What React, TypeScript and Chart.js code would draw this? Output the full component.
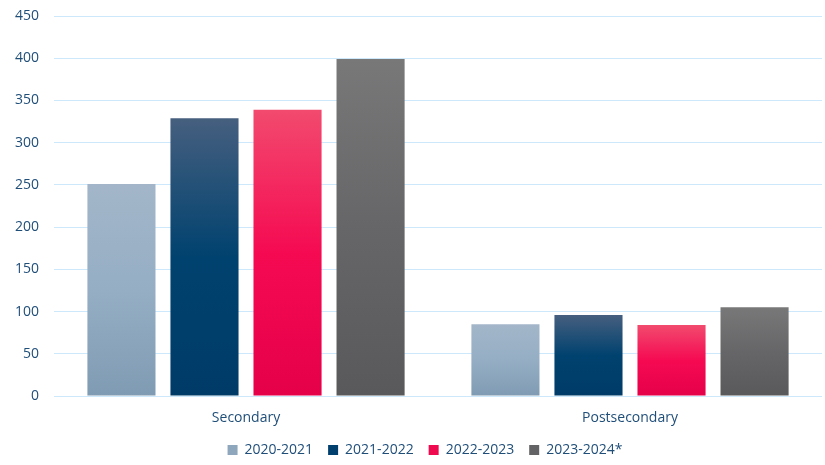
import React, { useEffect, useRef } from "react";
import { Chart, registerables } from "chart.js";

Chart.register(...registerables);

const categories = ["Secondary", "Postsecondary"];
const seriesLabels = ["2020-2021", "2021-2022", "2022-2023", "2023-2024*"];
const values2020 = [251, 85];
const values2021 = [329, 96];
const values2022 = [339, 84];
const values2023 = [399, 105];
const yTicks = { min: 0, max: 450, step: 50 };

const gradientStops: string[][] = [
  ["#a3b6c9", "#95aec4", "#7f9bb3"],
  ["#465f7f", "#00426f", "#003b68"],
  ["#f24a6e", "#f50a52", "#e5004a"],
  ["#787879", "#666668", "#59595b"],
];
const solidColors = ["#8ea7bd", "#003f6e", "#ef0a50", "#636365"];

const TEXT = "#1f4e79";
const FONT = "'Open Sans', sans-serif";

const legendShift = {
  id: "legendShift",
  afterLayout(chart: any) {
    const lg = chart.legend;
    if (lg) {
      lg.left += 14;
      lg.right += 14;
      lg.top += 2;
      lg.bottom += 2;
    }
  },
};

export default function App() {
  const ref = useRef<HTMLCanvasElement | null>(null);
  useEffect(() => {
    if (!ref.current) return;
    const series = [values2020, values2021, values2022, values2023];
    const makeBg = (i: number) => (ctx: any) => {
      const chart = ctx.chart;
      if (!chart.chartArea || ctx.type !== "data" || !chart.scales.y) return solidColors[i];
      const y = chart.scales.y;
      const top = y.getPixelForValue(ctx.raw);
      const bottom = y.getPixelForValue(0);
      if (!isFinite(top) || !isFinite(bottom) || top === bottom) return solidColors[i];
      const g = chart.ctx.createLinearGradient(0, top, 0, bottom);
      const s = gradientStops[i];
      g.addColorStop(0, s[0]);
      g.addColorStop(0.5, s[1]);
      g.addColorStop(1, s[2]);
      return g;
    };
    const chart = new Chart(ref.current, {
      type: "bar",
      data: {
        labels: categories,
        datasets: series.map((d, i) => ({
          label: seriesLabels[i],
          data: d,
          backgroundColor: makeBg(i),
          borderWidth: 0,
          barPercentage: 0.82,
          categoryPercentage: 0.865,
        })),
      },
      plugins: [legendShift],
      options: {
        animation: false,
        responsive: true,
        maintainAspectRatio: false,
        layout: { padding: { top: 0, right: 3, left: 0, bottom: 0 } },
        plugins: {
          tooltip: { enabled: false },
          legend: {
            position: "bottom",
            labels: {
              boxWidth: 10,
              boxHeight: 10,
              padding: 15,
              color: TEXT,
              font: { family: FONT, size: 14 },
              generateLabels: (c: any) =>
                c.data.datasets.map((ds: any, i: number) => ({
                  text: ds.label,
                  fillStyle: solidColors[i],
                  strokeStyle: solidColors[i],
                  lineWidth: 0,
                  fontColor: TEXT,
                  hidden: false,
                  datasetIndex: i,
                })),
            },
          },
        },
        scales: {
          x: {
            grid: { display: false, drawTicks: false },
            border: { display: false },
            afterFit: (scale: any) => {
              scale.height = 30;
            },
            ticks: { color: TEXT, font: { family: FONT, size: 14 }, padding: 14 },
          },
          y: {
            min: yTicks.min,
            max: yTicks.max,
            grid: { color: "#cde8fb", lineWidth: 1, drawTicks: false },
            border: { display: false },
            afterFit: (scale: any) => {
              scale.paddingTop = 16;
            },
            ticks: {
              stepSize: yTicks.step,
              color: TEXT,
              font: { family: FONT, size: 14 },
              padding: 15,
            },
          },
        },
      },
    });
    return () => chart.destroy();
  }, []);
  return (
    <div style={{ position: "fixed", left: 0, top: 0, width: 825, height: 465, background: "#fff" }}>
      <canvas ref={ref} />
    </div>
  );
}
